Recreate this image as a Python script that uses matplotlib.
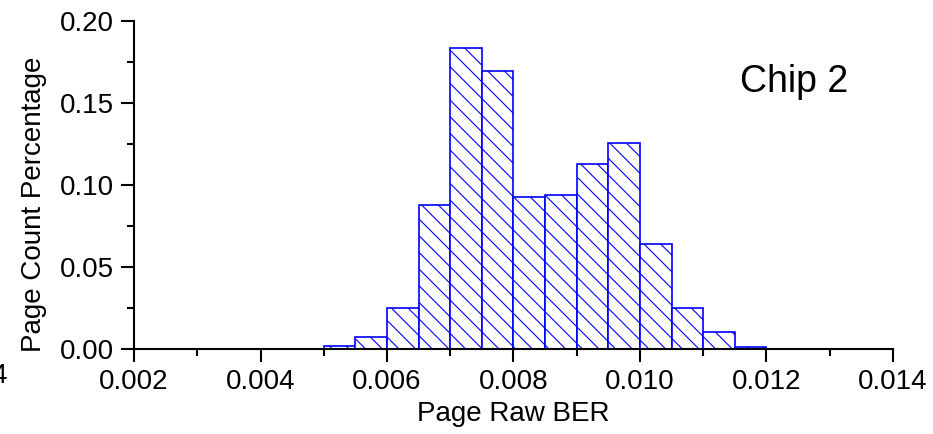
import matplotlib
matplotlib.use("Agg")
import matplotlib.pyplot as plt
from matplotlib.ticker import MultipleLocator, FormatStrFormatter

plt.rcParams['font.family'] = ['Liberation Sans', 'DejaVu Sans']
plt.rcParams['hatch.linewidth'] = 0.8

bin_left = [0.0050, 0.0055, 0.0060, 0.0065, 0.0070, 0.0075, 0.0080,
            0.0085, 0.0090, 0.0095, 0.0100, 0.0105, 0.0110, 0.0115]
bin_width = 0.0005
percent = [0.0018, 0.0071, 0.0248, 0.0878, 0.1833, 0.1695, 0.0929,
           0.0941, 0.1126, 0.1254, 0.0640, 0.0248, 0.0104, 0.0010]
xlabel = "Page Raw BER"
ylabel = "Page Count Percentage"
annot = "Chip 2"

fig = plt.figure(figsize=(9.33, 4.34), dpi=100)
ax = fig.add_axes([134/933, 1-349/434, (893-134)/933, (349-21)/434])

ax.bar(bin_left, percent, width=bin_width, align='edge', facecolor='white',
       edgecolor='#0000ff', linewidth=1.2, hatch='\\\\')

ax.set_xlim(0.002, 0.014)
ax.set_ylim(0.0, 0.20)
ax.xaxis.set_major_locator(MultipleLocator(0.002))
ax.xaxis.set_minor_locator(MultipleLocator(0.001))
ax.yaxis.set_major_locator(MultipleLocator(0.05))
ax.yaxis.set_minor_locator(MultipleLocator(0.025))
ax.xaxis.set_major_formatter(FormatStrFormatter('%.3f'))
ax.yaxis.set_major_formatter(FormatStrFormatter('%.2f'))

for s in ['top', 'right']:
    ax.spines[s].set_visible(False)
for s in ['left', 'bottom']:
    ax.spines[s].set_linewidth(1.5)
ax.tick_params(which='major', direction='out', length=9.5, width=1.5, labelsize=20, pad=5)
ax.tick_params(which='minor', direction='out', length=5, width=1.5)

ax.set_xlabel(xlabel, fontsize=20, labelpad=4)
ax.set_ylabel(ylabel, fontsize=20)
ax.yaxis.set_label_coords(-(134-47)/(893-134), (349-204)/(349-21))
ax.text((794-134)/(893-134), (349-82)/(349-21), annot, transform=ax.transAxes,
        fontsize=27, ha='center', va='center')
fig.text(-0.009, 1-383/434, "4", fontsize=20, ha='left', va='baseline')

fig.savefig("out.png", dpi=100)
